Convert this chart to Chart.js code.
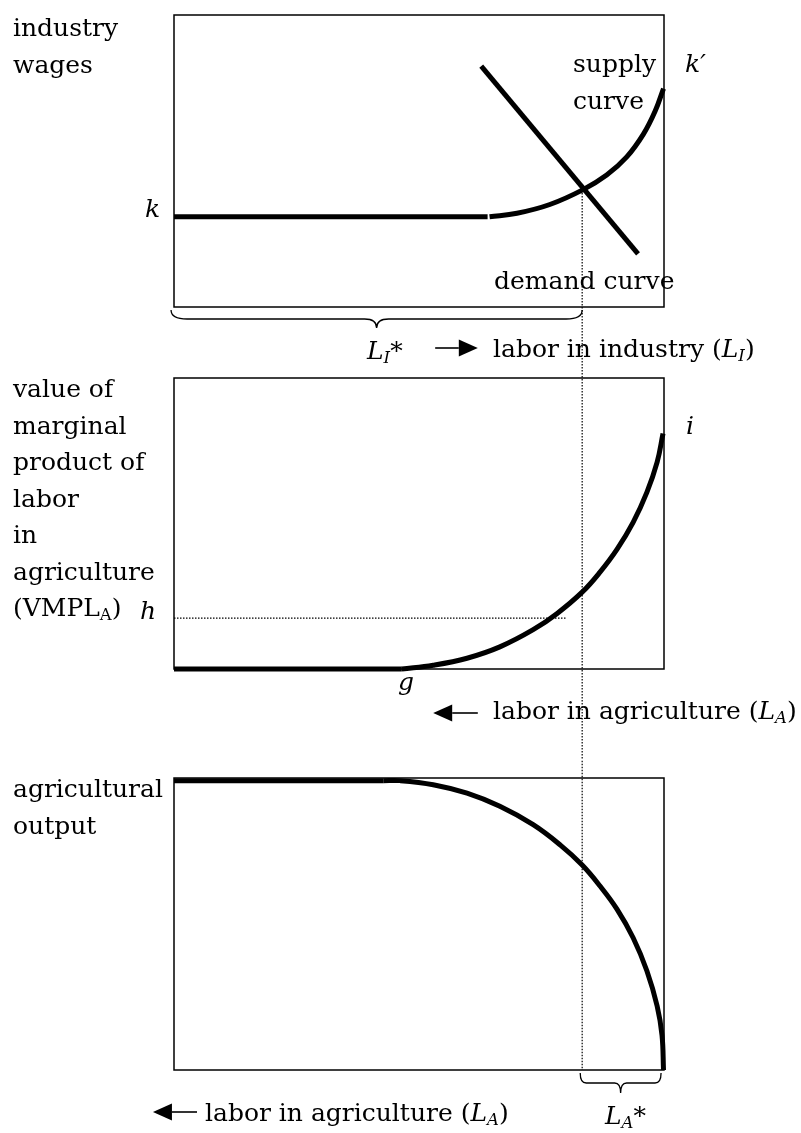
<!DOCTYPE html>
<html>
<head>
<meta charset="utf-8">
<script src="https://cdn.jsdelivr.net/npm/chart.js@4.4.1/dist/chart.umd.min.js"></script>
<style>
  html, body { margin: 0; padding: 0; background: #fff; }
  body { width: 801px; height: 1133px; position: relative; overflow: hidden; font-family: 'DejaVu Serif', serif; }
  .pane { position: absolute; left: 0; width: 801px; }
  .t { position: absolute; font-size: 25px; line-height: 36.5px; color: #000; white-space: nowrap; }
  .it { font-style: italic; }
  sub { font-size: 0.66em; line-height: 0; vertical-align: -0.22em; }
</style>
</head>
<body>
<div class="pane" style="top:0;height:370px"><canvas id="c-top" width="801" height="370"></canvas></div>
<div class="pane" style="top:370px;height:390px"><canvas id="c-mid" width="801" height="390"></canvas></div>
<div class="pane" style="top:760px;height:373px"><canvas id="c-bot" width="801" height="373"></canvas></div>

<!-- top panel text -->
<div class="t" style="left:13px;top:10px">industry<br>wages</div>
<div class="t it" style="left:145px;top:191px">k</div>
<div class="t" style="left:573px;top:46px">supply<br>curve</div>
<div class="t it" style="left:685px;top:46px">k′</div>
<div class="t" style="left:494px;top:263px">demand curve</div>
<div class="t it" style="left:367px;top:333px">L<sub>I</sub>*</div>
<div class="t" style="left:493px;top:331px">labor in industry (<span class="it">L<sub>I</sub></span>)</div>

<!-- middle panel text -->
<div class="t" style="left:13px;top:371px">value of<br>marginal<br>product of<br>labor<br>in<br>agriculture<br>(VMPL<sub>A</sub>)</div>
<div class="t it" style="left:140px;top:593px">h</div>
<div class="t it" style="left:686px;top:408px">i</div>
<div class="t it" style="left:398px;top:664px">g</div>
<div class="t" style="left:493px;top:693px">labor in agriculture (<span class="it">L<sub>A</sub></span>)</div>

<!-- bottom panel text -->
<div class="t" style="left:13px;top:771px">agricultural<br>output</div>
<div class="t" style="left:205px;top:1095px">labor in agriculture (<span class="it">L<sub>A</sub></span>)</div>
<div class="t it" style="left:605px;top:1098px">L<sub>A</sub>*</div>

<script>
// every panel: x = labor share across the box (0..100), y = 0..100 inside the box
const LSTAR = 83.3;

// top: industry wages
const kFlatX   = [0, 64.0];
const kFlatY   = [30.9, 30.9];
const supplyX  = [64.4, 70.0, 76.7, 83.5, 88.3, 92.4, 95.8, 98.2, 99.9];
const supplyY  = [30.9, 32.1, 35.1, 40.2, 45.2, 51.4, 59.2, 67.1, 74.8];
const demandX  = [62.7, 94.7];
const demandY  = [82.5, 18.2];
const topGuideY = [40.1, -30];

// middle: VMPL in agriculture
const gFlatX = [0, 46.5];
const gFlatY = [0, 0];
const vmplX  = [46.5, 52.9, 59.8, 66.5, 73.3, 78.2, 83.3, 86.9, 90.4, 93.7, 96.5, 98.6, 99.8];
const vmplY  = [0, 1.3, 3.7, 7.6, 13.5, 19.1, 26.4, 33.2, 41.1, 50.4, 60.7, 71.1, 80.9];
const hLineX = [0, 80.0];
const hLineY = [17.5, 17.5];
const midGuideY = [110, -40];

// bottom: agricultural output
const outFlatX = [0, 42.7];
const outFlatY = [99.1, 99.1];
const outX = [42.7, 46.1, 52.9, 59.8, 66.5, 73.3, 78.8, 83.3, 86.9, 90.4, 93.7, 96.5, 98.6, 99.6, 99.9];
const outY = [99.1, 99.1, 97.7, 94.8, 90.3, 84.0, 77.1, 70.2, 63.1, 55.1, 45.3, 34.0, 21.9, 11.8, 0];
const botGuideY = [110, 0];

const pts = (xs, ys) => xs.map((x, i) => ({ x, y: ys[i] }));

const thick = (xs, ys, curved) => ({
  data: pts(xs, ys),
  borderColor: '#000', borderWidth: 5,
  pointRadius: 0, fill: false, clip: false,
  tension: curved ? 0.4 : 0,
  borderCapStyle: 'butt'
});
const dotted = (xs, ys) => ({
  data: pts(xs, ys),
  borderColor: '#000', borderWidth: 1.2, borderDash: [1.5, 1.5],
  pointRadius: 0, fill: false, clip: false, tension: 0
});

function brace(ctx, xa, xb, y0, h, rEnd, rMid) {
  const mid = (xa + xb) / 2, y1 = y0 + h / 2, tip = y0 + h;
  ctx.beginPath();
  ctx.moveTo(xa, y0);
  ctx.quadraticCurveTo(xa, y1, xa + rEnd, y1);
  ctx.lineTo(mid - rMid, y1);
  ctx.quadraticCurveTo(mid, y1, mid, tip);
  ctx.quadraticCurveTo(mid, y1, mid + rMid, y1);
  ctx.lineTo(xb - rEnd, y1);
  ctx.quadraticCurveTo(xb, y1, xb, y0);
  ctx.stroke();
}

function arrow(ctx, xa, xb, y, dir) {
  const head = 19, half = 8.5;
  const tipX = dir > 0 ? xb : xa;
  const tailX = dir > 0 ? xa : xb;
  const baseX = tipX - dir * head;
  ctx.lineWidth = 1.6;
  ctx.beginPath(); ctx.moveTo(tailX, y); ctx.lineTo(baseX, y); ctx.stroke();
  ctx.beginPath();
  ctx.moveTo(tipX, y); ctx.lineTo(baseX, y - half); ctx.lineTo(baseX, y + half);
  ctx.closePath(); ctx.fill();
}

function panel(id, datasets, pad, extras) {
  const deco = {
    id: 'deco',
    beforeDatasetsDraw(chart) {
      const { ctx, chartArea: a } = chart;
      ctx.save();
      ctx.strokeStyle = '#000'; ctx.lineWidth = 1.5;
      ctx.strokeRect(a.left, a.top, a.right - a.left, a.bottom - a.top);
      ctx.restore();
    },
    afterDatasetsDraw(chart) {
      const { ctx, chartArea: a, scales: { x } } = chart;
      ctx.save();
      ctx.strokeStyle = '#000'; ctx.fillStyle = '#000';
      (extras.braces || []).forEach(b => {
        ctx.lineWidth = 1.3;
        brace(ctx, x.getPixelForValue(b.from), x.getPixelForValue(b.to), a.bottom + b.gap, b.h, b.rEnd, b.rMid);
      });
      (extras.arrows || []).forEach(r => {
        arrow(ctx, x.getPixelForValue(r.from), x.getPixelForValue(r.to), a.bottom + r.gap, r.dir);
      });
      ctx.restore();
    }
  };
  return new Chart(document.getElementById(id), {
    type: 'line',
    data: { datasets },
    options: {
      responsive: false, animation: false, events: [],
      layout: { padding: pad },
      scales: {
        x: { type: 'linear', min: 0, max: 100, display: false },
        y: { type: 'linear', min: 0, max: 100, display: false }
      },
      plugins: { legend: { display: false }, tooltip: { enabled: false } }
    },
    plugins: [deco]
  });
}

panel('c-top', [
  thick(kFlatX, kFlatY, false),
  thick(supplyX, supplyY, true),
  thick(demandX, demandY, false),
  dotted([LSTAR, LSTAR], topGuideY)
], { left: 174, right: 137, top: 15, bottom: 63 }, {
  braces: [{ from: -0.6, to: LSTAR, gap: 3, h: 18, rEnd: 16, rMid: 12 }],
  arrows: [{ from: 53.3, to: 62.0, gap: 41, dir: 1 }]
});

panel('c-mid', [
  thick(gFlatX, gFlatY, false),
  thick(vmplX, vmplY, true),
  dotted(hLineX, hLineY),
  dotted([LSTAR, LSTAR], midGuideY)
], { left: 174, right: 137, top: 8, bottom: 91 }, {
  arrows: [{ from: 52.9, to: 62.0, gap: 44, dir: -1 }]
});

panel('c-bot', [
  thick(outFlatX, outFlatY, false),
  thick(outX, outY, true),
  dotted([LSTAR, LSTAR], botGuideY)
], { left: 174, right: 137, top: 18, bottom: 63 }, {
  braces: [{ from: 82.9, to: 99.4, gap: 3, h: 20, rEnd: 6, rMid: 6 }],
  arrows: [{ from: -4.3, to: 4.7, gap: 42, dir: -1 }]
});
</script>
</body>
</html>
